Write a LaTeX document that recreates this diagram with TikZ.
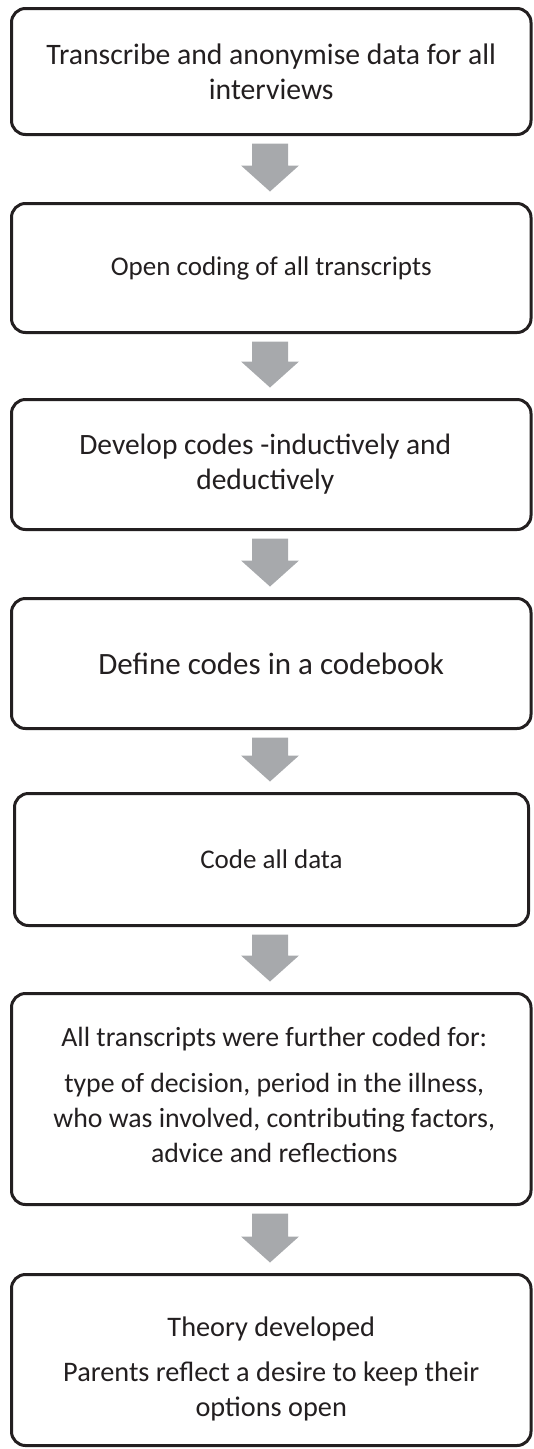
\documentclass[tikz,border=0pt]{standalone}
\usepackage{fontspec}
\setmainfont{Carlito}
\usetikzlibrary{calc}
\definecolor{ink}{HTML}{231F20}
\definecolor{arrowgray}{HTML}{A7A9AC}
\tikzset{
  stepbox/.style={draw=ink, line width=3pt, rounded corners=14pt, text=ink,
    align=center, inner sep=0pt},
  fs/.style={font=\fontsize{#1}{35}\selectfont},
  arrowfill/.style={fill=arrowgray, draw=none}
}
\newcommand{\flowarrow}[2]{%
  \path ($(#1.south)+(0,7.5)$) coordinate (atop) ($(#2.north)+(0,-10.5)$) coordinate (atip);
  \fill[arrowfill] let \p1=(atop), \p2=(atip) in
    (252pt,\y1) -- (288pt,\y1) -- (288pt,\y2+26pt) -- (299pt,\y2+26pt) --
    (270pt,\y2) -- (241pt,\y2+26pt) -- (252pt,\y2+26pt) -- cycle;
}
\begin{document}
\begin{tikzpicture}[x=1pt,y=-1pt]
\useasboundingbox (0,0) rectangle (533,1449);
\node[stepbox, fs=29.7, minimum width=519.5pt, minimum height=126pt] (b1) at (271.25,71.5)
  {Transcribe and anonymise data for all\\interviews};
\node[stepbox, fs=27, minimum width=519.5pt, minimum height=129pt] (b2) at (271.25,268)
  {Open coding of all transcripts};
\node[stepbox, fs=29.5, minimum width=519.5pt, minimum height=130pt] (b3) at (271.25,464.5)
  {Develop codes -inductively and\hspace*{12pt}\\deductively\hspace*{12pt}};
\node[stepbox, fs=31, minimum width=519.5pt, minimum height=130pt] (b4) at (271.25,663.5)
  {Define codes in a codebook};
\node[stepbox, fs=27, minimum width=514pt, minimum height=132pt] (b5) at (271.5,859.5)
  {Code all data};
\node[stepbox, fs=27.8, minimum width=519.5pt, minimum height=211pt] (b6) at (271.25,1099)
  {\hspace*{6pt}All transcripts were further coded for:\\[11pt]\hspace*{6pt}type of decision, period in the illness,\\\hspace*{6pt}who was involved, contributing factors,\\\hspace*{6pt}advice and reflections\rule[-8pt]{0pt}{8pt}};
\node[stepbox, fs=28.3, minimum width=519.5pt, minimum height=171pt] (b7) at (271.25,1360)
  {\rule{0pt}{37pt}Theory developed\\[10pt]Parents reflect a desire to keep their\hspace*{10pt}\\options open};
\flowarrow{b1}{b2}
\flowarrow{b2}{b3}
\flowarrow{b3}{b4}
\flowarrow{b4}{b5}
\flowarrow{b5}{b6}
\flowarrow{b6}{b7}
\end{tikzpicture}
\end{document}
